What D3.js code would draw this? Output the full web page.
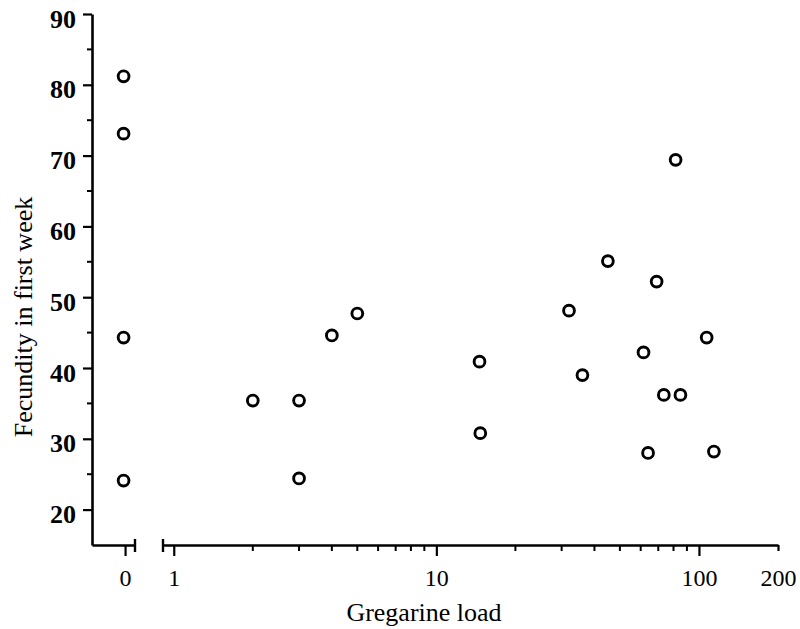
<!DOCTYPE html>
<html>
<head>
<meta charset="utf-8">
<script src="https://cdn.jsdelivr.net/npm/d3@7"></script>
<style>
  body { margin: 0; background: #fff; }
  .axis text { font-family: "Liberation Serif", serif; fill: #000; }
  .axis path, .axis line { stroke: #000; }
</style>
</head>
<body>
<svg id="chart"></svg>
<script>
// gregarine load per host (0 = uninfected) and fecundity in the first week
const loads = [0, 0, 0, 0, 2, 3, 3, 4, 5, 14.6, 14.7, 32, 36, 45, 61.5, 64, 69, 73.5, 81.5, 85, 107, 114];
const fecundity = [81.2, 73.1, 44.3, 24.1, 35.4, 35.4, 24.4, 44.6, 47.7, 40.9, 30.8, 48.1, 39.0, 55.1, 42.2, 28.0, 52.2, 36.2, 69.4, 36.2, 44.3, 28.2];

const yTicks = [20, 30, 40, 50, 60, 70, 80, 90];
const yMinor = [25, 35, 45, 55, 65, 75, 85];
const xTicks = [1, 10, 100, 200];
const xMinor = [2, 3, 4, 5, 6, 7, 8, 9, 20, 30, 40, 50, 60, 70, 80, 90];

const width = 800, height = 629;
const axisY = 545;

const svg = d3.select('#chart')
    .attr('width', width)
    .attr('height', height);

const yScale = d3.scaleLinear()
    .domain([15, 90])
    .range([axisY, 14]);

// broken x axis: a short piece for zero, then a log piece
const xZero = d3.scaleLinear()
    .domain([-1, 0.3])
    .range([92, 135]);

const xLog = d3.scaleLog()
    .domain([0.91, 200])
    .range([163, 778]);

const xPos = d => d === 0 ? xZero(0) - 1.5 : xLog(d);

// y axis
const yAxis = svg.append('g')
    .attr('class', 'axis')
    .attr('transform', 'translate(92,0)')
    .call(d3.axisLeft(yScale).tickValues(yTicks).tickSize(9).tickSizeOuter(0).tickPadding(7));
yAxis.select('.domain').attr('stroke-width', 2.6);
yAxis.selectAll('.tick line').attr('stroke-width', 2.2);
yAxis.selectAll('.tick text')
    .attr('font-size', 26)
    .attr('font-weight', 'bold')
    .attr('dy', '0.5em');

svg.append('g')
    .attr('class', 'axis')
    .attr('transform', 'translate(92,0)')
  .selectAll('line')
  .data(yMinor)
  .enter().append('line')
    .attr('x1', -5)
    .attr('x2', 0)
    .attr('y1', d => yScale(d))
    .attr('y2', d => yScale(d))
    .attr('stroke-width', 2);

// zero segment
const zeroAxis = svg.append('g')
    .attr('class', 'axis')
    .attr('transform', 'translate(0,' + axisY + ')')
    .call(d3.axisBottom(xZero).tickValues([0]).tickSize(11).tickSizeOuter(0).tickFormat(d3.format('d')));

// log segment
const logAxis = svg.append('g')
    .attr('class', 'axis')
    .attr('transform', 'translate(0,' + axisY + ')')
    .call(d3.axisBottom(xLog).tickValues(xTicks).tickSize(11).tickSizeOuter(0).tickFormat(d3.format('d')));

logAxis.selectAll('.tick')
    .filter(d => d === 200)
    .select('line')
    .attr('y2', 6);

[zeroAxis, logAxis].forEach(g => {
  g.select('.domain').attr('stroke-width', 2.6);
  g.selectAll('.tick line').attr('stroke-width', 2.2);
  g.selectAll('.tick text')
      .attr('font-size', 24)
      .attr('y', 41)
      .attr('dy', 0);
});

logAxis.append('g')
  .selectAll('line')
  .data(xMinor)
  .enter().append('line')
    .attr('x1', d => xLog(d))
    .attr('x2', d => xLog(d))
    .attr('y1', 0)
    .attr('y2', 6)
    .attr('stroke-width', 2);

// break caps at both ends of the gap
svg.append('g')
    .attr('class', 'axis')
  .selectAll('line')
  .data([xZero.range()[1], xLog.range()[0]])
  .enter().append('line')
    .attr('x1', d => d)
    .attr('x2', d => d)
    .attr('y1', axisY - 6)
    .attr('y2', axisY + 7)
    .attr('stroke-width', 2.4);

// axis titles
svg.append('text')
    .attr('x', 424)
    .attr('y', 621)
    .attr('text-anchor', 'middle')
    .attr('font-family', '"Liberation Serif", serif')
    .attr('font-size', 26)
    .text('Gregarine load');

svg.append('text')
    .attr('transform', 'translate(32,' + 317 + ') rotate(-90)')
    .attr('text-anchor', 'middle')
    .attr('font-family', '"Liberation Serif", serif')
    .attr('font-size', 26)
    .text('Fecundity in first week');

// points
svg.append('g')
  .selectAll('circle')
  .data(loads.map((d, i) => ({ load: d, fec: fecundity[i] })))
  .enter().append('circle')
    .attr('cx', d => xPos(d.load))
    .attr('cy', d => yScale(d.fec))
    .attr('r', 5.4)
    .attr('fill', 'none')
    .attr('stroke', '#000')
    .attr('stroke-width', 2.9);
</script>
</body>
</html>
